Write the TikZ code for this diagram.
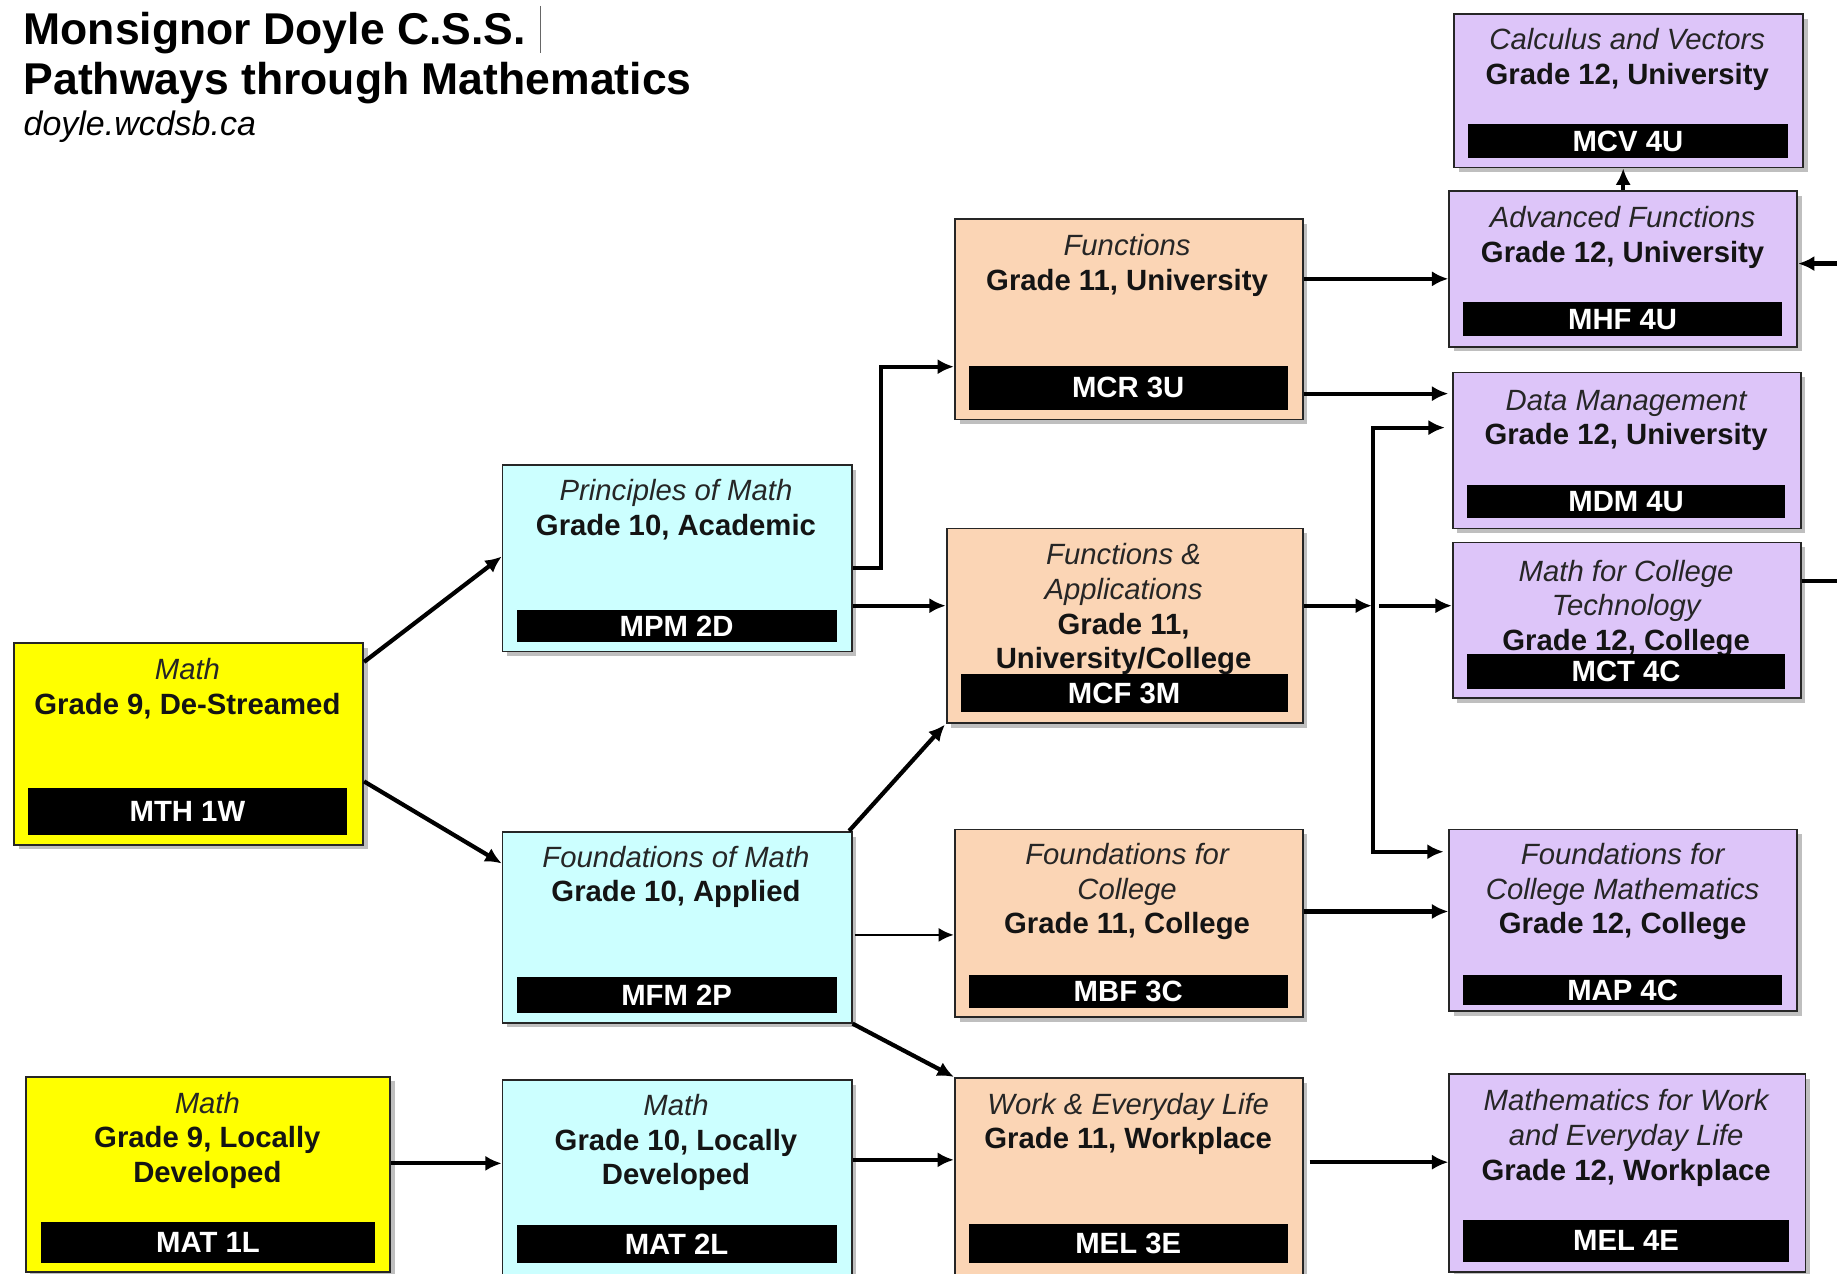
\documentclass[tikz,border=0pt]{standalone}
\usepackage{fontspec}
\setmainfont{Liberation Sans}
\usetikzlibrary{arrows.meta,shadows}
\definecolor{ylw}{HTML}{FFFF00}
\definecolor{cyn}{HTML}{CCFFFF}
\definecolor{pch}{HTML}{FBD5B5}
\definecolor{prp}{HTML}{DDC5F9}
\definecolor{edgec}{HTML}{262626}
\definecolor{itc}{HTML}{262626}
\newcommand\ital[1]{{\mdseries\itshape\color{itc}#1}}
\newcommand\fl{\rule{0pt}{20pt}}
\tikzset{
 cbox/.style={draw=edgec, line width=1.5pt, inner sep=0pt, rectangle,
   drop shadow={shadow xshift=4pt, shadow yshift=-4pt, fill=black, opacity=0.25}},
 ctext/.style={anchor=north, inner sep=0pt, align=center,
   font=\fontsize{25pt}{29.5pt}\selectfont\bfseries, text=black!92},
 cbar/.style={fill=black, inner sep=0pt, text=white,
   font=\fontsize{25pt}{29.5pt}\selectfont\bfseries},
 arr/.style={line width=3.6pt, -{Latex[length=14pt,width=13pt]}},
 thinarr/.style={line width=2.4pt, -{Latex[length=13pt,width=12pt]}},
 title/.style={anchor=base west, inner sep=0pt},
}
\begin{document}
\begin{tikzpicture}[x=1pt,y=-1pt]
\useasboundingbox (0,0) rectangle (1568,1087);
\fill[white] (0,0) rectangle (1568,1087);
\clip (0,0) rectangle (1568,1087);

% title
\node[title, font=\fontsize{38pt}{40pt}\selectfont\bfseries] (t1) at (20,38) {Monsignor Doyle C.S.S.};
\node[title, font=\fontsize{38pt}{40pt}\selectfont\bfseries] (t2) at (20,81) {Pathways through Mathematics};
\node[title, font=\fontsize{29pt}{32pt}\selectfont\itshape] (t3) at (20,116) {doyle.wcdsb.ca};
\draw[line width=0.8pt, black!60] (461,5) -- (461,45);

% Grade 9
\node[cbox, fill=ylw, minimum width=298pt, minimum height=172pt] (mth) at (161,635) {};
\node[ctext] (mth-t) at (160,560) {\fl\ital{Math}\\Grade 9, De-Streamed};
\node[cbar, minimum width=272pt, minimum height=40pt] (mth-c) at (160,693) {MTH 1W};

\node[cbox, fill=ylw, minimum width=311pt, minimum height=167pt] (mat1) at (177.5,1002.5) {};
\node[ctext] (mat1-t) at (177,930) {\fl\ital{Math}\\Grade 9, Locally\\Developed};
\node[cbar, minimum width=285pt, minimum height=35pt] (mat1-c) at (177.5,1060.5) {MAT 1L};

% Grade 10
\node[cbox, fill=cyn, minimum width=298pt, minimum height=159pt] (mpm) at (578,476.5) {};
\node[ctext] (mpm-t) at (577,407) {\fl\ital{Principles of Math}\\Grade 10, Academic};
\node[cbar, minimum width=273pt, minimum height=27pt] (mpm-c) at (577.5,534.5) {MPM 2D};

\node[cbox, fill=cyn, minimum width=298pt, minimum height=163pt] (mfm) at (578,791.5) {};
\node[ctext] (mfm-t) at (577,720) {\fl\ital{Foundations of Math}\\Grade 10, Applied};
\node[cbar, minimum width=273pt, minimum height=31pt] (mfm-c) at (577.5,849.5) {MFM 2P};

\node[cbox, fill=cyn, minimum width=298pt, minimum height=170pt] (mat2) at (578,1007) {};
\node[ctext] (mat2-t) at (577,932) {\fl\ital{Math}\\Grade 10, Locally\\Developed};
\node[cbar, minimum width=273pt, minimum height=32pt] (mat2-c) at (577.5,1062) {MAT 2L};

% Grade 11
\node[cbox, fill=pch, minimum width=297pt, minimum height=171pt] (mcr) at (963.5,272.5) {};
\node[ctext] (mcr-t) at (962,198) {\fl\ital{Functions}\\Grade 11, University};
\node[cbar, minimum width=272pt, minimum height=38pt] (mcr-c) at (963,331) {MCR 3U};

\node[cbox, fill=pch, minimum width=304pt, minimum height=166pt] (mcf) at (960,534) {};
\node[ctext] (mcf-t) at (959,462) {\fl\ital{Functions \&}\\\ital{Applications}\\Grade 11,\\University/College};
\node[cbar, minimum width=279pt, minimum height=33pt] (mcf-c) at (959.5,591.5) {MCF 3M};

\node[cbox, fill=pch, minimum width=297pt, minimum height=160pt] (mbf) at (963.5,788) {};
\node[ctext] (mbf-t) at (962,718) {\fl\ital{Foundations for}\\\ital{College}\\Grade 11, College};
\node[cbar, minimum width=272pt, minimum height=28pt] (mbf-c) at (963,846) {MBF 3C};

\node[cbox, fill=pch, minimum width=297pt, minimum height=172pt] (mel3) at (963.5,1006) {};
\node[ctext] (mel3-t) at (963,931) {\fl\ital{Work \& Everyday Life}\\Grade 11, Workplace};
\node[cbar, minimum width=272pt, minimum height=33pt] (mel3-c) at (963,1061.5) {MEL 3E};

% Grade 12
\node[cbox, fill=prp, minimum width=298pt, minimum height=131pt] (mcv) at (1390,77.5) {};
\node[ctext] (mcv-t) at (1389,22) {\fl\ital{Calculus and Vectors}\\Grade 12, University};
\node[cbar, minimum width=273pt, minimum height=29pt] (mcv-c) at (1389.5,120.5) {MCV 4U};

\node[cbox, fill=prp, minimum width=297pt, minimum height=133pt] (mhf) at (1385.5,229.5) {};
\node[ctext] (mhf-t) at (1385,174) {\fl\ital{Advanced Functions}\\Grade 12, University};
\node[cbar, minimum width=272pt, minimum height=29pt] (mhf-c) at (1385,272.5) {MHF 4U};

\node[cbox, fill=prp, minimum width=297pt, minimum height=133pt] (mdm) at (1388.5,384.5) {};
\node[ctext] (mdm-t) at (1388,330) {\fl\ital{Data Management}\\Grade 12, University};
\node[cbar, minimum width=272pt, minimum height=28pt] (mdm-c) at (1388,428) {MDM 4U};

\node[cbox, fill=prp, minimum width=297pt, minimum height=133pt] (mct) at (1388.5,529.5) {};
\node[ctext] (mct-t) at (1388,476) {\fl\ital{Math for College}\\\ital{Technology}\\Grade 12, College};
\node[cbar, minimum width=272pt, minimum height=30pt] (mct-c) at (1388,573) {MCT 4C};

\node[cbox, fill=prp, minimum width=297pt, minimum height=155pt] (map) at (1385.5,785.5) {};
\node[ctext] (map-t) at (1385,718) {\fl\ital{Foundations for}\\\ital{College Mathematics}\\Grade 12, College};
\node[cbar, minimum width=272pt, minimum height=26pt] (map-c) at (1385,845) {MAP 4C};

\node[cbox, fill=prp, minimum width=304pt, minimum height=169pt] (mel4) at (1389,1001.5) {};
\node[ctext] (mel4-t) at (1388,928) {\fl\ital{Mathematics for Work}\\\ital{and Everyday Life}\\Grade 12, Workplace};
\node[cbar, minimum width=278pt, minimum height=36pt] (mel4-c) at (1388,1059) {MEL 4E};

% connectors
\draw[arr] (mth.east |- 0,565) -- (mpm.west |- 0,475);
\draw[arr] (mth.east |- 0,667) -- (mfm.west |- 0,737);
\draw[arr] (mpm.east |- 0,485) -- ++(24,0) |- (mcr.west |- 0,313);
\draw[arr] (mpm.east |- 0,517) -- (mcf.west |- 0,517);
\draw[arr, shorten >=1pt] ([xshift=-3pt]mfm.north east) -- (mcf.south west);
\draw[thinarr] ([xshift=2pt]mfm.east |- 0,798) -- (mbf.west |- 0,798);
\draw[arr] (mfm.south east) -- (mel3.north west);
\draw[arr] (mat1.east |- 0,993) -- (mat2.west |- 0,993);
\draw[arr] (mat2.east |- 0,990) -- (mel3.west |- 0,990);
\draw[arr] (mcr.east |- 0,238) -- (mhf.west |- 0,238);
\draw[arr, shorten >=3pt] (mcr.east |- 0,336) -- (mdm.west |- 0,336);

\coordinate (bt) at (1172,365);
\coordinate (bb) at (1172,727);
\coordinate (bi) at (1171,517);
\coordinate (bo) at (1177,517);
\draw[arr, shorten >=6pt] (bb) -- (bt) -- (mdm.west |- bt);
\draw[arr, shorten >=4pt] (bt) -- (bb) -- (map.west |- bb);
\draw[arr] (mcf.east |- bi) -- (bi);
\draw[arr] (bo) -- (mct.west |- bo);
\draw[arr] (mbf.east |- 0,778) -- (map.west |- 0,778);
\draw[arr] ([xshift=5pt]mel3.east |- 0,992) -- (mel4.west |- 0,992);
\draw[arr] (mhf.north) -- (mhf.north |- mcv.south);
\draw[arr] (mct.east |- 0,496) -- ++(60,0) |- (mhf.east |- 0,225);
\end{tikzpicture}
\end{document}
